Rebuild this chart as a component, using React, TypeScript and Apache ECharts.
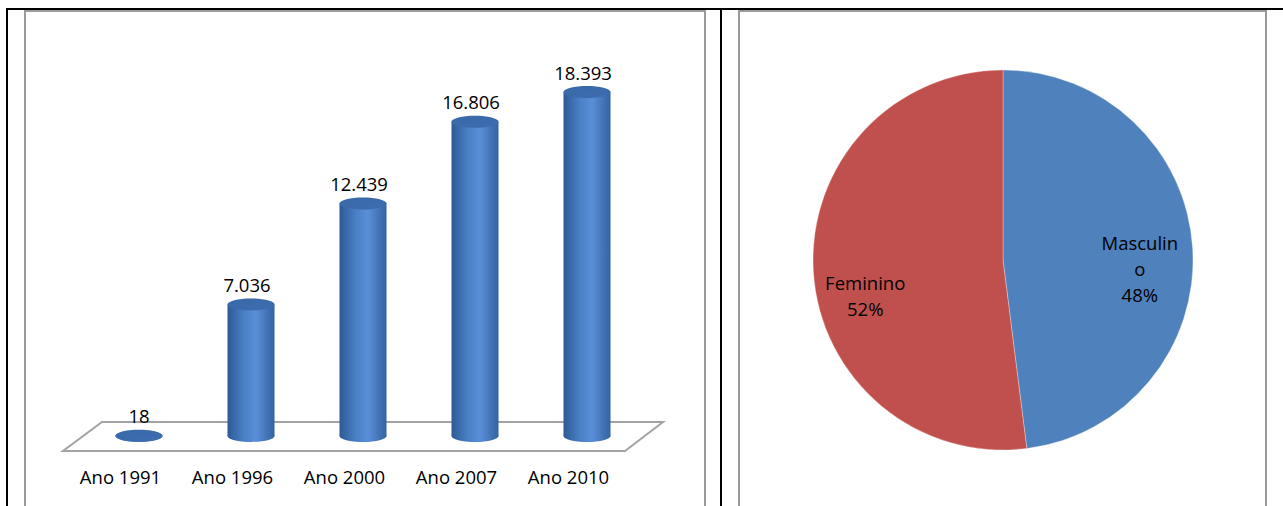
import React, { useEffect, useRef } from "react";
import * as echarts from "echarts";

const years = ["Ano 1991", "Ano 1996", "Ano 2000", "Ano 2007", "Ano 2010"];
const totals = [18, 7036, 12439, 16806, 18393];
const sexNames = ["Masculino", "Feminino"];
const sexValues = [48, 52];
const sexColors = ["#4F81BD", "#C0504D"];

const FONT = "Open Sans, Liberation Sans, Arial, sans-serif";

function fmt(v: number): string {
  return String(v).replace(/\B(?=(\d{3})+(?!\d))/g, ".");
}

export default function App() {
  const ref = useRef<HTMLDivElement>(null);
  useEffect(() => {
    if (!ref.current) return;
    const chart = echarts.init(ref.current, null, { renderer: "svg" });
    const bodyFill = new echarts.graphic.LinearGradient(0, 0, 1, 0, [
      { offset: 0, color: "#2e5a96" },
      { offset: 0.35, color: "#4a80c6" },
      { offset: 0.6, color: "#5a8fd8" },
      { offset: 1, color: "#3462a2" },
    ]);
    const topFill = new echarts.graphic.LinearGradient(0, 0, 1, 1, [
      { offset: 0, color: "#3a69a8" },
      { offset: 1, color: "#3d6db0" },
    ]);
    const option: any = {
      animation: false,
      graphic: [
        { type: "rect", z: 0, shape: { x: 6, y: 8, width: 1277, height: 2 }, style: { fill: "#000" } },
        { type: "rect", z: 0, shape: { x: 6, y: 8, width: 2, height: 498 }, style: { fill: "#000" } },
        { type: "rect", z: 0, shape: { x: 720, y: 8, width: 2, height: 498 }, style: { fill: "#000" } },
        { type: "rect", z: 0, shape: { x: 25, y: 11, width: 680, height: 520 }, style: { fill: "none", stroke: "#9a9a9a", lineWidth: 2 } },
        { type: "rect", z: 0, shape: { x: 739, y: 11, width: 527, height: 520 }, style: { fill: "none", stroke: "#9a9a9a", lineWidth: 2 } },
        {
          type: "polygon",
          z: 0,
          shape: { points: [[63, 451], [625, 451], [663, 422], [102, 422]] },
          style: { fill: "#fff", stroke: "#a3a3a3", lineWidth: 2 },
        },
      ],
      grid: { left: 83, right: 1283 - 643, top: 62, bottom: 70 },
      xAxis: {
        type: "category",
        data: years,
        axisLine: { show: false },
        axisTick: { show: false },
        axisLabel: { margin: 31, fontSize: 18.5, color: "#000", fontFamily: FONT, padding: [0, 37, 0, 0] },
      },
      yAxis: { type: "value", min: 0, max: 20000, show: false, splitLine: { show: false } },
      series: [
        {
          type: "custom",
          z: 5,
          data: totals.map((v, i) => [i, v]),
          renderItem: (params: any, api: any) => {
            const v = api.value(1);
            const top = api.coord([api.value(0), v]);
            const base = api.coord([api.value(0), 0]);
            const w = api.size([1, 0])[0] * 0.42;
            const ry = 6;
            const h = Math.max(base[1] - top[1], 0);
            return {
              type: "group",
              children: [
                {
                  type: "ellipse",
                  shape: { cx: base[0], cy: base[1], rx: w / 2, ry },
                  style: { fill: bodyFill },
                },
                {
                  type: "rect",
                  shape: { x: top[0] - w / 2, y: top[1], width: w, height: h },
                  style: { fill: bodyFill },
                },
                {
                  type: "ellipse",
                  shape: { cx: top[0], cy: top[1], rx: w / 2, ry },
                  style: { fill: topFill },
                },
                {
                  type: "text",
                  x: top[0] - (v > 100 ? 4 : 0),
                  y: top[1] - 20,
                  style: {
                    text: fmt(v),
                    fill: "#000",
                    fontSize: 18.5,
                    fontFamily: FONT,
                    align: "center",
                    verticalAlign: "middle",
                  },
                },
              ],
            };
          },
        },
        {
          type: "pie",
          center: [1003, 260],
          radius: 190,
          startAngle: 90,
          clockwise: true,
          data: sexNames.map((n, i) => ({ name: n, value: sexValues[i], itemStyle: { color: sexColors[i] } })),
          itemStyle: { borderColor: "rgba(255,255,255,0.5)", borderWidth: 0.6 },
          label: {
            position: "inside",
            formatter: "{b}\n{d}%",
            fontSize: 18.5,
            lineHeight: 26,
            fontFamily: FONT,
            color: "#000",
            width: 84,
            overflow: "breakAll",
            align: "center",
          },
          labelLine: { show: false },
          labelLayout: (p: any) =>
            p.dataIndex === 0 ? { dx: 39, dy: 15 } : { dx: -40, dy: 29 },
          emphasis: { disabled: true },
        },
      ],
    };
    chart.setOption(option);
    return () => chart.dispose();
  }, []);
  return (
    <div
      ref={ref}
      style={{ position: "absolute", left: 0, top: 0, width: 1283, height: 506, background: "#fff" }}
    />
  );
}
